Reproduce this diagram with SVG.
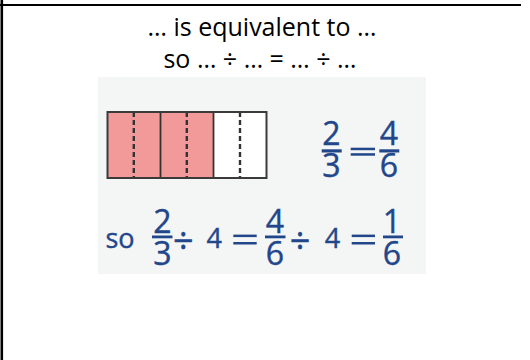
<svg xmlns="http://www.w3.org/2000/svg" width="530" height="360" viewBox="0 0 530 360">
<style>
.title{font-family:"Open Sans","Liberation Sans",sans-serif;font-size:25px;fill:#000;text-anchor:middle}
.m{font-family:"Open Sans","Liberation Sans",sans-serif;fill:#22468a;stroke:#22468a;stroke-width:0.4;text-anchor:middle}
.fr{font-size:32px}
.in{font-size:27px}
.dv{font-size:36px}
.bar{fill:#22468a}
.dash{stroke:#333;stroke-width:2.4;stroke-dasharray:5 3}
</style>
<rect width="530" height="360" fill="#fff"/>
<g id="frame" stroke="#000">
<line x1="0" y1="5" x2="521" y2="5" stroke-width="2.2"/>
<line x1="1.8" y1="0" x2="1.8" y2="360" stroke-width="2.6"/>
</g>
<g id="titles">
<text class="title" x="262" y="35.5">… is equivalent to …</text>
<text class="title" x="260" y="68">so … ÷ … = … ÷ …</text>
</g>
<g id="picture">
<rect x="98" y="77" width="328" height="197" fill="#f4f6f6"/>
<g id="bar-model">
<rect x="107.5" y="112" width="106" height="66" fill="#f29a9a"/>
<rect x="213.5" y="112" width="53" height="66" fill="#fff"/>
<line class="dash" x1="133.8" y1="112" x2="133.8" y2="178"/>
<line class="dash" x1="186.8" y1="112" x2="186.8" y2="178"/>
<line class="dash" x1="240" y1="112" x2="240" y2="178"/>
<line x1="160.5" y1="112" x2="160.5" y2="178" stroke="#333" stroke-width="1.8"/>
<line x1="213.5" y1="112" x2="213.5" y2="178" stroke="#333" stroke-width="1.8"/>
<rect x="107.5" y="112" width="159" height="66" fill="none" stroke="#3a3a3a" stroke-width="2"/>
</g>
<g id="eq1">
<text class="m fr" x="331.3" y="145">2</text>
<rect class="bar" x="321.7" y="149.3" width="20" height="3.2"/>
<text class="m fr" x="331.5" y="177">3</text>
<rect class="bar" x="350.7" y="147.7" width="24.3" height="2.5"/>
<rect class="bar" x="350.7" y="153.2" width="24.3" height="2.5"/>
<text class="m fr" x="389" y="145">4</text>
<rect class="bar" x="379.3" y="149.3" width="20" height="3.2"/>
<text class="m fr" x="389" y="177">6</text>
</g>
<g id="eq2">
<text class="m in" x="120" y="248.3">so</text>
<text class="m fr" x="162.5" y="232.5">2</text>
<rect class="bar" x="152" y="235.5" width="20.5" height="2.8"/>
<text class="m fr" x="162.5" y="264.5">3</text>
<text class="m dv" x="183.3" y="254">÷</text>
<text class="m in" x="214.2" y="248.3">4</text>
<rect class="bar" x="233.3" y="234.6" width="23.4" height="2.5"/>
<rect class="bar" x="233.3" y="242" width="23.4" height="2.5"/>
<text class="m fr" x="275" y="232.5">4</text>
<rect class="bar" x="265" y="235.5" width="20.5" height="2.8"/>
<text class="m fr" x="275" y="264.5">6</text>
<text class="m dv" x="300" y="254">÷</text>
<text class="m in" x="332.5" y="248.3">4</text>
<rect class="bar" x="351.7" y="234.6" width="23.3" height="2.5"/>
<rect class="bar" x="351.7" y="242" width="23.3" height="2.5"/>
<text class="m fr" x="392" y="232.5">1</text>
<rect class="bar" x="383" y="235.5" width="20" height="2.8"/>
<text class="m fr" x="392" y="264.5">6</text>
</g>
</g>
</svg>
